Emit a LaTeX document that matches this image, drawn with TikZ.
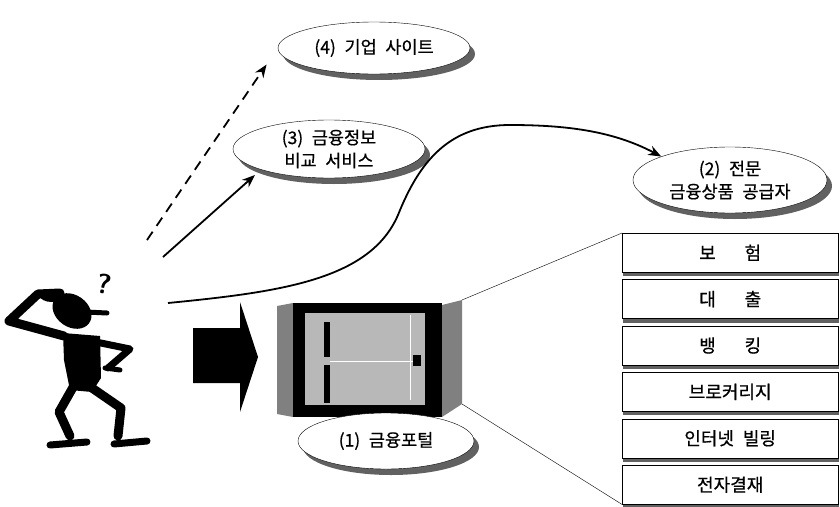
\documentclass[tikz,border=0pt]{standalone}
\usepackage{fontspec}
\setmainfont{Noto Sans CJK KR}[WordSpace=2.2, FakeBold=0.6]
\usetikzlibrary{shapes.geometric, shadows, arrows.meta}

\begin{document}
\begin{tikzpicture}[x=1pt, y=-1pt,
        bubble/.style={ellipse, draw, thin, fill=white, inner sep=0pt, align=center,
            font=\fontsize{17.5}{23}\selectfont,
            general shadow={fill=black!62, shadow xshift=5pt, shadow yshift=-6pt}},
        menubox/.style={rectangle, draw, thin, fill=white, anchor=north west,
            minimum width=216pt, minimum height=39pt, font=\fontsize{18}{22}\selectfont,
            general shadow={fill=black!62, shadow xshift=1pt, shadow yshift=-4pt}},
        limb/.style={line width=9pt, line cap=round, line join=round},
        link/.style={line width=1.8pt, -{Stealth[length=13pt, width=10pt]}}
    ]
        \useasboundingbox (0,0) rectangle (840,506);

        % The puzzled man
        \fill[rotate around={-35:(72,311)}] (72,311) ellipse [x radius=21pt, y radius=16pt];
        \draw[line width=5pt, line cap=round] (86,312) -- (107,313);
        \fill (52,296) ellipse [x radius=12pt, y radius=6pt];
        \draw[limb] (64,336) -- (9,321) -- (38,294) -- (60,293);
        \fill (63,333) -- (100,336) -- (101,378) -- (92,392) -- (70,390) -- (64,360) -- cycle;
        \draw[limb, line width=7pt] (96,342) -- (130,349) -- (108,368);
        \draw[limb, line width=5pt] (105,368) -- (120,370);
        \draw[limb] (76,382) -- (59,412) -- (70,436);
        \draw[limb, line width=7pt] (50,445) -- (87,442);
        \draw[limb] (92,388) -- (121,408) -- (118,436);
        \draw[limb, line width=7pt] (114,444) -- (147,441);
        \node[font=\sffamily\bfseries\fontsize{28}{28}\selectfont, rotate=-10] (qmark) at (104,284) {?};

        % Big block arrow towards the door
        \fill (193,328) -- (240,328) -- (240,302) -- (258,357) -- (240,412) -- (240,383) -- (193,383) -- cycle;

        % The door (portal)
        \fill[black!50] (277,306) -- (293,303) -- (293,417) -- (277,414) -- cycle;
        \fill (293,303) rectangle (442,417);
        \fill[black!28] (305,313) rectangle (425,405);
        \fill (324,322) rectangle (330,357);
        \fill (324,365) rectangle (330,403);
        \draw[white, thin] (330,361) -- (420,361);
        \draw[white, thin] (410,315) -- (410,400);
        \fill (413,355) rectangle (421,366);
        \fill[black!50] (442,305) -- (462,300) -- (462,404) -- (442,417) -- cycle;
        \coordinate (dtop) at (462,300);
        \coordinate (dbot) at (462,404);

        % Services behind the portal
        \node[menubox] (b1) at (622,233) {보\hspace{1.6em}험};
        \node[menubox] (b2) at (622,279.4) {대\hspace{1.6em}출};
        \node[menubox] (b3) at (622,325.8) {뱅\hspace{1.6em}킹};
        \node[menubox] (b4) at (622,372.2) {브로커리지};
        \node[menubox] (b5) at (622,418.6) {인터넷 빌링};
        \node[menubox] (b6) at (622,465) {전자결재};

        \draw (dtop) -- (b1.north west);
        \draw (dbot) -- (b6.south west);

        % Ways to reach a financial service
        \node[bubble, minimum width=192pt, minimum height=52pt] (e4) at (374,48) {(4) 기업 사이트};
        \node[bubble, minimum width=192pt, minimum height=58pt] (e3) at (329,149) {(3) 금융정보\\비교 서비스};
        \node[bubble, minimum width=194pt, minimum height=66pt] (e2) at (730,180) {(2) 전문\\금융상품 공급자};
        \node[bubble, minimum width=176pt, minimum height=56pt] (e1) at (386,441) {(1) 금융포털};

        \coordinate (p4) at (147,240);
        \coordinate (p3) at (163,257);
        \coordinate (p2) at (168,303);

        \draw[link, dash pattern=on 10pt off 7pt, shorten >=20pt] (p4) -- (e4.west);
        \draw[link, shorten >=8pt] (p3) -- (e3.south west);
        \draw[link] (p2) .. controls (280,292) and (370,280) .. (398,215)
            .. controls (420,160) and (450,125) .. (510,125)
            .. controls (570,125) and (615,132) .. (e2.north west);

    \end{tikzpicture}
\end{document}
